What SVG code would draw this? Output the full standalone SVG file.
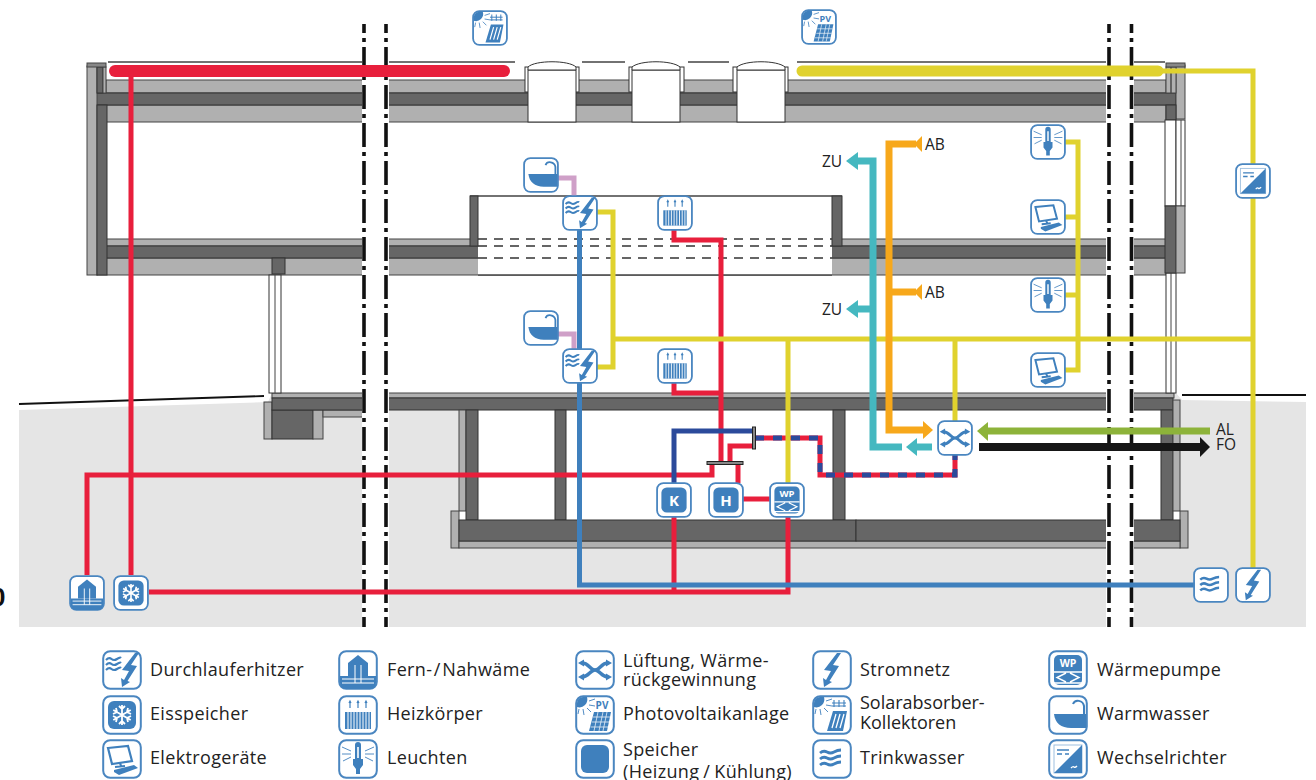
<svg xmlns="http://www.w3.org/2000/svg" width="1316" height="780" viewBox="0 0 1316 780">
<style>
text{font-family:"Open Sans","Noto Sans","Liberation Sans",sans-serif;fill:#222}
.lg{font-size:18px;letter-spacing:.35px}
.lb{font-size:15.500px}
.d{fill:#666;stroke:#333;stroke-width:1}
.l{fill:#b0b0b0;stroke:#444;stroke-width:1}
.w{fill:#fff;stroke:#333;stroke-width:1}
.t{fill:none;stroke:#444;stroke-width:1.4}
.dash{fill:none;stroke:#333;stroke-width:1.3;stroke-dasharray:9 7}
.brk{fill:none;stroke:#111;stroke-width:3.6;stroke-dasharray:24 5 4 5;stroke-dashoffset:15}
.c{fill:none;stroke-linejoin:miter}
.red{stroke:#e81f3c;stroke-width:5}
.blu{stroke:#3f80bd;stroke-width:5}
.dbl{stroke:#2b4a9b;stroke-width:5}
.yel{stroke:#e0d22e;stroke-width:5}
.pnk{stroke:#cfa0c8;stroke-width:5}
.tea{stroke:#45b8c0;stroke-width:7}
.org{stroke:#f7a81b;stroke-width:7}
.grn{stroke:#8db33a;stroke-width:7}
.blk{stroke:#161616;stroke-width:8}
.frame{fill:#fff;stroke:#4a86c0;stroke-width:2}
.f{fill:#3f80bd}
.s{fill:none;stroke:#3f80bd;stroke-width:2.2}
.s1{fill:none;stroke:#3f80bd;stroke-width:.9}
.wt{fill:#fff;font-family:"Open Sans","Liberation Sans",sans-serif;font-weight:700}
.ws{fill:none;stroke:#fff;stroke-width:1.4}
</style>
<defs>
<rect id="fr" class="frame" x="1.2" y="1.2" width="37.6" height="37.6" rx="7"/>
<g id="bolt"><polygon class="f" points="26,3 13,20 20,21 15,30 12,28 13,37 21,32 18.500,31 28,16 22,15 30,3"/></g>
<g id="waves"><path class="s" style="stroke-width:2.800" d="M8 14q3.500-3 7-1t7 0t7-2M8 20q3.500-3 7-1t7 0t7-2M8 26q3.500-3 7-1t7 0t7-2"/></g>
<g id="sun"><path class="f" d="M2 12V8a6 6 0 0 1 6-6h4a8 8 0 0 1-10 10z"/><path class="s1" d="M14 6l6-2M14 10l6 1M12 13l4 4M8 14l1 6M4 14l-1 5"/></g>
<symbol id="i-dle" viewBox="0 0 40 40"><use href="#fr"/><path class="s" d="M4 10q3-3 5.500-1t5.500 0t4-1M4 15q3-3 5.500-1t5.500 0t4-1M4 20q3-3 5.500-1t5.500 0t4-1"/><use href="#bolt" transform="translate(7,0)"/></symbol>
<symbol id="i-eis" viewBox="0 0 40 40"><use href="#fr"/><rect class="f" x="6" y="6" width="28" height="28" rx="6"/><path class="ws" style="stroke-width:1.800" d="M20 10V30M11.300 15L28.700 25M11.300 25L28.700 15M17 11l3 3l3-3M17 29l3-3l3 3M11 19l4-2l-1-4M29 21l-4 2l1 4M11 21l4 2l-1 4M29 19l-4-2l1-4"/></symbol>
<symbol id="i-pc" viewBox="0 0 40 40"><use href="#fr"/><path class="s" d="M6 9L26 7L30 22L10 25Z"/><path class="s" d="M18 24l1 3M13 28l10-1"/><path class="f" d="M12 31L32 26L36 29L17 36L12 33Z"/></symbol>
<symbol id="i-haus" viewBox="0 0 40 40"><use href="#fr"/><path class="f" d="M10 26V13L20 5L30 13V26Z"/><path class="f" d="M2 26H38V33a6 6 0 0 1-6 6H8a6 6 0 0 1-6-6Z"/><path class="ws" style="stroke-width:1" d="M4 29H36M4 33H36M17 15V33M23 15V33"/></symbol>
<symbol id="i-hk" viewBox="0 0 40 40"><use href="#fr"/><path class="s1" style="stroke-width:1.200" d="M12 6V13M20 6V13M28 6V13M11 8l1-2l1 2M19 8l1-2l1 2M27 8l1-2l1 2"/><rect class="f" x="7" y="17" width="26" height="17"/><path class="ws" style="stroke-width:1" d="M10 17V34M13 17V34M16 17V34M19 17V34M22 17V34M25 17V34M28 17V34M31 17V34"/></symbol>
<symbol id="i-lamp" viewBox="0 0 40 40"><use href="#fr"/><path class="f" d="M17 6a3 3 0 0 1 6 0V20H25V26L22 30V35H18V30L15 26V20H17Z"/><path fill="#fff" d="M19.200 8h1.600v11h-1.600z"/><path class="s1" d="M4 8L13 12M4 15H13M5 22L13 18M36 8L27 12M36 15H27M35 22L27 18"/></symbol>
<symbol id="i-vent" viewBox="0 0 40 40"><use href="#fr"/><path class="s" style="stroke-width:3.400" d="M7 13C14 13 15 20 20 20S26 13 33 13M7 27C14 27 15 20 20 20S26 27 33 27"/><path class="f" d="M31 9.500L37 13L31 16.500ZM31 23.500L37 27L31 30.500ZM9 9.500V16.500L3 13ZM9 23.500V30.500L3 27Z"/></symbol>
<symbol id="i-strom" viewBox="0 0 40 40"><use href="#fr"/><use href="#bolt" transform="translate(-1,0)"/></symbol>
<symbol id="i-wp" viewBox="0 0 40 40"><use href="#fr"/><rect class="f" x="6" y="5" width="28" height="30" rx="5"/><text class="wt" x="20" y="17" font-size="10.500" text-anchor="middle">WP</text><path class="ws" d="M6 22H34M6 33H34M18 23L9 27.500L18 32M22 23L31 27.500L22 32"/></symbol>
<symbol id="i-pv" viewBox="0 0 40 40"><use href="#fr"/><use href="#sun"/><text x="27" y="14" font-size="10" text-anchor="middle" style="fill:#3f80bd;font-weight:700">PV</text><path class="f" d="M19 17H36L32 36H14Z"/><path class="ws" style="stroke-width:.7" d="M18 22H35M17 27H34M15.500 32H33M23 17L19 36M28 17L24 36M32 17L28 36"/></symbol>
<symbol id="i-sol" viewBox="0 0 40 40"><use href="#fr"/><use href="#sun"/><path class="s1" style="stroke-width:1.100" d="M22 5V12M27 5V12M32 5V12M20 8H34M20 11H34"/><path class="f" d="M21 16H35L31 36H15Z"/><path class="ws" style="stroke-width:1.300" d="M24 19L20 33M28 19L24 33M32 19L28 33"/></symbol>
<symbol id="i-sp" viewBox="0 0 40 40"><use href="#fr"/><rect class="f" x="6" y="6" width="28" height="28" rx="6"/></symbol>
<symbol id="i-ww" viewBox="0 0 40 40"><use href="#fr"/><path class="f" d="M6 19H38V33H23C13 33 7 28 6 19Z"/><path class="s" style="stroke-width:2" d="M25 9C27 4 35 5 36 11V19"/></symbol>
<symbol id="i-tw" viewBox="0 0 40 40"><use href="#fr"/><use href="#waves"/></symbol>
<symbol id="i-wr" viewBox="0 0 40 40"><use href="#fr"/><rect x="6" y="6" width="28" height="28" fill="none" stroke="#9dbfdf" stroke-width="1"/><path class="f" d="M34 6V34H6Z"/><path class="s" style="stroke-width:1.400" d="M9 11H21M9 15H14M17 15H21"/><path class="ws" d="M23 29q2-2 3-1t3-1"/></symbol>
</defs>

<g id="building">
<path fill="#e5e5e5" d="M19 410L268 402L272 393H1176L1182 400L1306 402V627H19Z"/>
<path fill="none" stroke="#111" stroke-width="1.800" d="M19 404L264 396M1182 395H1306"/>
<rect x="459" y="410" width="721" height="110" fill="#fff"/>
<rect class="l" x="264" y="402" width="8" height="37"/>
<rect class="d" x="272" y="410" width="41" height="29"/>
<rect class="l" x="313" y="410" width="10" height="29"/>
<rect class="l" x="323" y="410" width="52" height="7"/>
<rect class="l" x="272" y="393" width="902" height="5"/>
<rect class="d" x="272" y="398" width="901" height="12"/>
<rect class="l" x="459" y="410" width="7" height="101"/>
<rect class="d" x="466" y="410" width="12" height="110"/>
<rect class="d" x="555" y="410" width="11" height="110"/>
<rect class="d" x="833" y="410" width="12" height="110"/>
<rect class="d" x="1161" y="410" width="12" height="110"/>
<rect class="l" x="1173" y="400" width="7" height="111"/>
<rect class="l" x="451" y="511" width="8" height="37"/>
<rect class="l" x="1180" y="511" width="8" height="37"/>
<rect class="l" x="459" y="541" width="721" height="7"/>
<rect class="d" x="459" y="520" width="397" height="21"/>
<rect class="d" x="856" y="520" width="324" height="21"/>
<rect class="l" x="97" y="239" width="1069" height="7"/>
<rect class="l" x="97" y="258" width="1069" height="17"/>
<rect class="d" x="97" y="246" width="1079" height="12"/>
<rect class="d" x="272" y="258" width="13" height="16"/>
<rect x="478" y="196" width="354" height="79" fill="#fff"/>
<path class="t" d="M470 196H842M478 275H832"/>
<rect class="d" x="470" y="196" width="8" height="50"/>
<rect class="d" x="832" y="196" width="10" height="50"/>
<path class="dash" d="M478 239H832M478 246H832M478 258H832"/>
<rect class="w" x="269" y="275" width="12" height="118"/>
<path class="t" style="stroke-width:1" d="M275 275V393"/>
<rect class="w" x="1166" y="273" width="10" height="120"/>
<path class="t" style="stroke-width:1" d="M1171 273V393"/>
<rect class="l" x="106" y="80" width="1060" height="13"/>
<rect class="l" x="106" y="105" width="1060" height="17"/>
<rect class="d" x="96" y="93" width="1080" height="12"/>
<path class="t" d="M108 62H515M582 62H625M688 62H729M797 62H1165"/>
<rect class="w" x="525" y="67" width="54" height="25"/>
<rect class="w" x="528" y="70" width="48" height="52"/>
<path class="w" d="M528 67C535 60 569 60 576 67V70H528Z"/>
<rect class="w" x="629" y="67" width="55" height="25"/>
<rect class="w" x="632" y="70" width="48" height="52"/>
<path class="w" d="M632 67C640 60 672 60 680 67V70H632Z"/>
<rect class="w" x="733" y="67" width="55" height="25"/>
<rect class="w" x="737" y="70" width="48" height="52"/>
<path class="w" d="M737 67C745 60 777 60 785 67V70H737Z"/>
<rect class="l" x="87" y="66" width="10" height="209"/>
<rect class="d" x="97" y="105" width="10" height="170"/>
<rect class="d" x="97" y="67" width="6" height="26"/>
<rect class="l" x="103" y="67" width="3" height="26"/>
<rect fill="#888" stroke="#444" x="87" y="63" width="19" height="4"/>
<rect class="l" x="1176" y="65" width="9" height="54"/>
<rect class="d" x="1166" y="105" width="10" height="15"/>
<rect class="l" x="1166" y="67" width="10" height="26"/>
<path class="t" d="M1171 67V93"/>
<rect fill="#888" stroke="#444" x="1166" y="63" width="19" height="4"/>
<rect class="w" x="1165" y="120" width="11" height="86"/>
<rect class="w" x="1176" y="120" width="9" height="86"/>
<path class="t" style="stroke-width:1" d="M1181 120V206"/>
<rect class="d" x="1165" y="206" width="11" height="67"/>
<rect class="l" x="1176" y="206" width="9" height="67"/>
<rect x="362" y="55" width="27" height="572" fill="#fff"/>
<rect x="1106" y="55" width="28" height="572" fill="#fff"/>
<path class="brk" d="M364 24V627M386 24V627M1109 24V627M1131.500 24V627"/>
</g>

<g id="connectors">
<path class="c red" stroke-linecap="round" style="stroke-width:12" d="M115 71H504"/>
<path class="c yel" stroke-linecap="round" style="stroke-width:11" d="M802 71H1158"/>
<path class="c yel" d="M1160 71H1253V570"/>
<path class="c red" d="M131 71V575"/>
<path class="c red" d="M87 575V475H712V463"/>
<path class="c red" d="M738 463V483"/>
<path class="c red" d="M674 230V240H721V463"/>
<path class="c red" d="M674 383V393H721"/>
<path class="c red" d="M730 463V446H753"/>
<path class="c red" d="M743 499H770"/>
<path class="c red" d="M149 592H788V517"/>
<path class="c red" d="M674 517V592"/>
<path class="c dbl" d="M674 483V431H753"/>
<path class="c red" d="M755 438H820V475H955V455"/>
<path class="c dbl" stroke-dasharray="9 9" d="M755 438H820V475H955V455"/>
<path class="c blu" d="M579.500 230V585H1194"/>
<path class="c pnk" d="M558 178H574V197"/>
<path class="c pnk" d="M558 334H574V349"/>
<path class="c yel" d="M597 212H613V367H597"/>
<path class="c yel" d="M613 339H1253"/>
<path class="c yel" d="M788 339V483"/>
<path class="c yel" d="M955 339V422"/>
<path class="c yel" d="M1065 142H1078V370H1065"/>
<path class="c yel" d="M1065 217H1078M1065 295H1078"/>
<path class="c tea" d="M902 447H873V161H856"/>
<path class="c tea" d="M873 309H856"/>
<path class="c tea" d="M932 447H914"/>
<path class="c org" d="M916 144H889V430H924"/>
<path class="c org" d="M889 292H916"/>
<path class="c grn" d="M1210 431H988"/>
<path class="c blk" d="M979 447H1201"/>
<g id="arrowheads">
<polygon fill="#45b8c0" points="846,161 858,152 858,170"/>
<polygon fill="#45b8c0" points="846,309 858,300 858,318"/>
<polygon fill="#45b8c0" points="906,447 917,438 917,456"/>
<polygon fill="#f7a81b" points="914,144 922,136 922,152"/>
<polygon fill="#f7a81b" points="914,292 922,284 922,300"/>
<polygon fill="#f7a81b" points="933,430 923,421 923,439"/>
<polygon fill="#8db33a" points="977,431 988,422 988,441"/>
<polygon fill="#161616" points="1210,447 1200,437 1200,457"/>
</g>
<g id="valves" fill="#888" stroke="#222" stroke-width="1">
<rect x="707" y="461.500" width="36" height="3"/>
<rect x="752.500" y="427" width="3" height="22"/>
</g>
</g>

<g id="n-solar"><use href="#i-sol" x="472" y="10" width="36" height="36"/></g>
<g id="n-pv"><use href="#i-pv" x="801" y="9" width="36" height="36"/></g>
<g id="n-ww1"><use href="#i-ww" x="523" y="157" width="36" height="36"/></g>
<g id="n-ww2"><use href="#i-ww" x="523" y="310" width="36" height="36"/></g>
<g id="n-dle1"><use href="#i-dle" x="562" y="195" width="36" height="36"/></g>
<g id="n-dle2"><use href="#i-dle" x="562" y="348" width="36" height="36"/></g>
<g id="n-hk1"><use href="#i-hk" x="657" y="195" width="36" height="36"/></g>
<g id="n-hk2"><use href="#i-hk" x="657" y="348" width="36" height="36"/></g>
<g id="n-lamp1"><use href="#i-lamp" x="1030" y="124" width="36" height="36"/></g>
<g id="n-pc1"><use href="#i-pc" x="1030" y="199" width="36" height="36"/></g>
<g id="n-lamp2"><use href="#i-lamp" x="1030" y="277" width="36" height="36"/></g>
<g id="n-pc2"><use href="#i-pc" x="1030" y="352" width="36" height="36"/></g>
<g id="n-wr"><use href="#i-wr" x="1235" y="163" width="36" height="36"/></g>
<g id="n-vent"><use href="#i-vent" x="937" y="420" width="36" height="36"/></g>
<g id="n-k"><use href="#i-sp" x="656" y="482" width="36" height="36"/><text class="wt" x="674" y="506" font-size="15" text-anchor="middle">K</text></g>
<g id="n-h"><use href="#i-sp" x="708" y="482" width="36" height="36"/><text class="wt" x="726" y="506" font-size="15" text-anchor="middle">H</text></g>
<g id="n-wp"><use href="#i-wp" x="769" y="482" width="36" height="36"/></g>
<g id="n-fern"><use href="#i-haus" x="69" y="575" width="36" height="36"/></g>
<g id="n-eis"><use href="#i-eis" x="113" y="575" width="36" height="36"/></g>
<g id="n-tw"><use href="#i-tw" x="1193" y="567" width="36" height="36"/></g>
<g id="n-strom"><use href="#i-strom" x="1235" y="567" width="36" height="36"/></g>

<g id="labels">
<text class="lb" x="822" y="167">ZU</text>
<text class="lb" x="925" y="150">AB</text>
<text class="lb" x="822" y="315">ZU</text>
<text class="lb" x="925" y="298">AB</text>
<text class="lb" x="1216" y="435">AL</text>
<text class="lb" x="1216" y="450">FO</text>
<text x="-9" y="606" font-size="26" style="font-weight:700;fill:#111;font-family:'Liberation Sans',sans-serif">0</text>
</g>

<g id="legend">
<g id="l-dle"><use href="#i-dle" x="102" y="650" width="40" height="40"/><text class="lg" x="150" y="676">Durchlauferhitzer</text></g>
<g id="l-eis"><use href="#i-eis" x="102" y="695" width="40" height="40"/><text class="lg" x="150" y="720">Eisspeicher</text></g>
<g id="l-pc"><use href="#i-pc" x="102" y="739" width="40" height="40"/><text class="lg" x="150" y="764">Elektrogeräte</text></g>
<g id="l-fern"><use href="#i-haus" x="338" y="650" width="40" height="40"/><text class="lg" x="387" y="676" style="word-spacing:-3.500px">Fern- / Nahwäme</text></g>
<g id="l-hk"><use href="#i-hk" x="338" y="695" width="40" height="40"/><text class="lg" x="387" y="720">Heizkörper</text></g>
<g id="l-lamp"><use href="#i-lamp" x="338" y="739" width="40" height="40"/><text class="lg" x="387" y="764">Leuchten</text></g>
<g id="l-vent"><use href="#i-vent" x="575" y="650" width="40" height="40"/><text class="lg" x="623" y="667">Lüftung, Wärme-</text><text class="lg" x="623" y="686">rückgewinnung</text></g>
<g id="l-pv"><use href="#i-pv" x="575" y="695" width="40" height="40"/><text class="lg" x="623" y="720">Photovoltaikanlage</text></g>
<g id="l-sp"><use href="#i-sp" x="575" y="739" width="40" height="40"/><text class="lg" x="623" y="756">Speicher</text><text class="lg" x="623" y="778" style="word-spacing:-1px">(Heizung / Kühlung)</text></g>
<g id="l-strom"><use href="#i-strom" x="812" y="650" width="40" height="40"/><text class="lg" x="860" y="676">Stromnetz</text></g>
<g id="l-sol"><use href="#i-sol" x="812" y="695" width="40" height="40"/><text class="lg" x="860" y="709" style="letter-spacing:0">Solarabsorber-</text><text class="lg" x="860" y="729" style="letter-spacing:0">Kollektoren</text></g>
<g id="l-tw"><use href="#i-tw" x="812" y="739" width="40" height="40"/><text class="lg" x="860" y="764">Trinkwasser</text></g>
<g id="l-wp"><use href="#i-wp" x="1048" y="650" width="40" height="40"/><text class="lg" x="1097" y="676">Wärmepumpe</text></g>
<g id="l-ww"><use href="#i-ww" x="1048" y="695" width="40" height="40"/><text class="lg" x="1097" y="720">Warmwasser</text></g>
<g id="l-wr"><use href="#i-wr" x="1048" y="739" width="40" height="40"/><text class="lg" x="1097" y="764">Wechselrichter</text></g>
</g>
</svg>
